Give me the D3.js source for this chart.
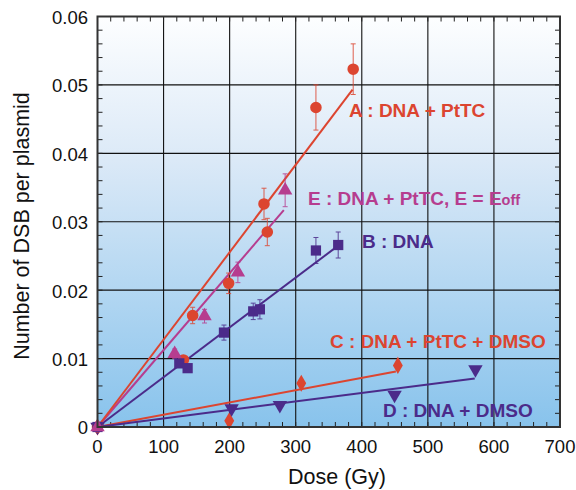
<!DOCTYPE html>
<html>
<head>
<meta charset="utf-8">
<script src="https://cdn.jsdelivr.net/npm/d3@7"></script>
<style>
  html, body { margin: 0; padding: 0; background: #fff; }
  svg { display: block; font-family: "Liberation Sans", Arial, sans-serif; }
</style>
</head>
<body>
<svg id="chart" width="576" height="490"></svg>
<script>
// ---- data ----
const xTicks = [0, 100, 200, 300, 400, 500, 600, 700];
const yTicks = [0, 0.01, 0.02, 0.03, 0.04, 0.05, 0.06];
const yTickLabels = ["0", "0.01", "0.02", "0.03", "0.04", "0.05", "0.06"];

// A : DNA + PtTC
const doseA = [0, 130, 144, 198.5, 252, 257, 330.6, 387];
const dsbA  = [0, 0.0098, 0.0163, 0.0210, 0.0326, 0.0285, 0.0467, 0.0523];
const errA  = [0, 0, 0.0012, 0.0015, 0.0023, 0.0020, 0.0033, 0.0037];
const fitA  = [[0, 0], [386, 0.0493]];

// E : DNA + PtTC, E = Eoff
const doseE = [0, 116.8, 162, 212.5, 284];
const dsbE  = [0, 0.0107, 0.0162, 0.0226, 0.0346];
const errE  = [0, 0.0007, 0.0010, 0.0015, 0.0024];
const fitE  = [[0, 0], [282, 0.0317]];

// B : DNA
const doseB = [0, 123.8, 136.4, 191.4, 235.7, 245.8, 330.6, 364.3];
const dsbB  = [0, 0.0093, 0.0086, 0.0138, 0.0169, 0.0172, 0.0258, 0.0266];
const errB  = [0, 0, 0, 0.0011, 0.0012, 0.0014, 0.0019, 0.0019];
const fitB  = [[0, 0], [362.8, 0.0264]];

// C : DNA + PtTC + DMSO
const doseC = [0, 199.4, 308.4, 454.6];
const dsbC  = [0, 0.0009, 0.0064, 0.0090];
const fitC  = [[0, 0], [451.6, 0.0081]];

// D : DNA + DMSO
const doseD = [0, 203, 276, 449.6, 572];
const dsbD  = [0, 0.0027, 0.0032, 0.0047, 0.0084];
const fitD  = [[0, 0], [571, 0.0071]];

// ---- drawing ----
const RED = "#dc4530", MAG = "#b63d8f", PUR = "#4b2b8a";
const svg = d3.select("#chart");
const L = 97.5, R = 560, T = 16.5, B = 427;
const x = d3.scaleLinear().domain([0, 700]).range([L, R]);
const y = d3.scaleLinear().domain([0, 0.06]).range([B, T]);

const defs = svg.append("defs");
const grad = defs.append("linearGradient").attr("id", "bg").attr("x1", 0).attr("y1", 0).attr("x2", 0).attr("y2", 1);
grad.append("stop").attr("offset", "0%").attr("stop-color", "#fdfeff");
grad.append("stop").attr("offset", "35%").attr("stop-color", "#dbe9f7");
grad.append("stop").attr("offset", "100%").attr("stop-color", "#88c3ec");

svg.append("rect").attr("x", L).attr("y", T).attr("width", R - L).attr("height", B - T).attr("fill", "url(#bg)");

// grid
const g = svg.append("g");
g.selectAll(".vg").data(xTicks.slice(1, -1)).join("line")
  .attr("x1", d => x(d)).attr("x2", d => x(d)).attr("y1", T).attr("y2", B)
  .attr("stroke", "#111").attr("stroke-width", 1.1);
g.selectAll(".hg").data(yTicks.slice(1, -1)).join("line")
  .attr("x1", L).attr("x2", R).attr("y1", d => y(d)).attr("y2", d => y(d))
  .attr("stroke", "#111").attr("stroke-width", 1.1);

// minor ticks (inward, all sides)
const xMinor = d3.range(0, 701, 20);
const yMinor = d3.range(0, 0.0601, 0.002);
const tk = svg.append("g").attr("stroke", "#222").attr("stroke-width", 1);
tk.selectAll(".xb").data(xMinor).join("line")
  .attr("x1", d => x(d)).attr("x2", d => x(d)).attr("y1", B).attr("y2", B - 5);
tk.selectAll(".xt").data(xMinor).join("line")
  .attr("x1", d => x(d)).attr("x2", d => x(d)).attr("y1", T).attr("y2", T + 5);
tk.selectAll(".yl").data(yMinor).join("line")
  .attr("x1", L).attr("x2", L + 5).attr("y1", d => y(d)).attr("y2", d => y(d));
tk.selectAll(".yr").data(yMinor).join("line")
  .attr("x1", R).attr("x2", R - 5).attr("y1", d => y(d)).attr("y2", d => y(d));

// fit lines
const line = d3.line().x(d => x(d[0])).y(d => y(d[1]));
[[fitC, RED], [fitD, PUR], [fitB, PUR], [fitE, MAG], [fitA, RED]].forEach(([f, c]) => {
  svg.append("path").attr("d", line(f)).attr("fill", "none").attr("stroke", c).attr("stroke-width", 2);
});

// error bars
function errbars(xs, ys, es, color) {
  const data = xs.map((d, i) => ({ x: d, y: ys[i], e: es[i] })).filter(d => d.e > 0);
  const eg = svg.append("g").attr("stroke", color).attr("stroke-width", 1).attr("opacity", 0.85);
  eg.selectAll("line.v").data(data).join("line")
    .attr("x1", d => x(d.x)).attr("x2", d => x(d.x)).attr("y1", d => y(d.y - d.e)).attr("y2", d => y(d.y + d.e));
  eg.selectAll("line.t").data(data).join("line")
    .attr("x1", d => x(d.x) - 2.5).attr("x2", d => x(d.x) + 2.5).attr("y1", d => y(d.y + d.e)).attr("y2", d => y(d.y + d.e));
  eg.selectAll("line.b").data(data).join("line")
    .attr("x1", d => x(d.x) - 2.5).attr("x2", d => x(d.x) + 2.5).attr("y1", d => y(d.y - d.e)).attr("y2", d => y(d.y - d.e));
}
errbars(doseA, dsbA, errA, RED);
errbars(doseE, dsbE, errE, MAG);
errbars(doseB, dsbB, errB, PUR);

// markers
function markers(xs, ys, type, size, color, rot) {
  const sym = d3.symbol().type(type).size(size);
  svg.append("g").selectAll("path").data(xs.map((d, i) => [d, ys[i]])).join("path")
    .attr("d", sym)
    .attr("transform", d => `translate(${x(d[0])},${y(d[1])}) rotate(${rot || 0})`)
    .attr("fill", color);
}
markers(doseC, dsbC, d3.symbolDiamond, 85, RED);
markers(doseD, dsbD, d3.symbolTriangle, 90, PUR, 180);
markers(doseA, dsbA, d3.symbolCircle, 105, RED);
markers(doseB, dsbB, d3.symbolSquare, 105, PUR);
markers(doseE, dsbE, d3.symbolTriangle, 90, MAG);

// frame
svg.append("rect").attr("x", L).attr("y", T).attr("width", R - L).attr("height", B - T)
  .attr("fill", "none").attr("stroke", "#333").attr("stroke-width", 2);

// tick labels
svg.append("g").selectAll("text").data(yTicks).join("text")
  .attr("x", 88).attr("y", d => y(d)).attr("dy", "0.4em")
  .attr("text-anchor", "end").attr("font-size", 18.5).attr("fill", "#111")
  .text((d, i) => yTickLabels[i]);
svg.append("g").selectAll("text").data(xTicks).join("text")
  .attr("x", d => x(d)).attr("y", 453)
  .attr("text-anchor", "middle").attr("font-size", 18.5).attr("fill", "#111")
  .text(d => d);

// axis titles
svg.append("text").attr("x", 337).attr("y", 484).attr("text-anchor", "middle")
  .attr("font-size", 21.5).attr("fill", "#111").text("Dose (Gy)");
svg.append("text").attr("transform", "translate(29,226) rotate(-90)").attr("text-anchor", "middle")
  .attr("font-size", 21.5).attr("fill", "#111").text("Number of DSB per plasmid");

// series labels
const lab = svg.append("g").attr("font-weight", "bold").attr("font-size", 19);
lab.append("text").attr("x", 349).attr("y", 117).attr("fill", RED).text("A : DNA + PtTC");
const te = lab.append("text").attr("x", 308).attr("y", 205).attr("fill", MAG);
te.append("tspan").text("E : DNA + PtTC, E = E");
te.append("tspan").attr("font-size", 14.5).text("off");
lab.append("text").attr("x", 362).attr("y", 248).attr("fill", PUR).text("B : DNA");
lab.append("text").attr("x", 330).attr("y", 348).attr("fill", RED).text("C : DNA + PtTC + DMSO");
lab.append("text").attr("x", 383).attr("y", 417).attr("fill", PUR).text("D : DNA + DMSO");
</script>
</body>
</html>
